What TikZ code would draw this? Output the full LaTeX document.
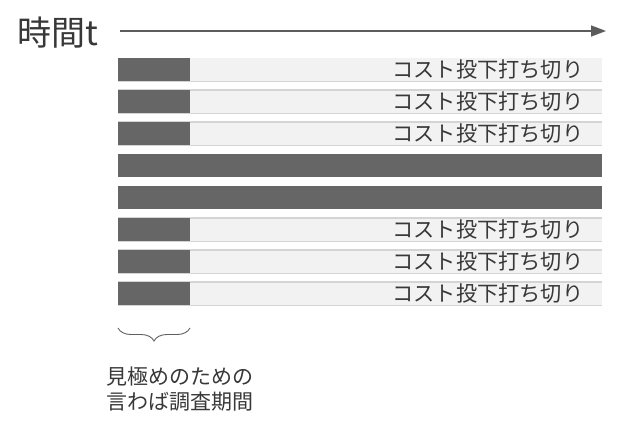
\documentclass[tikz,border=0pt]{standalone}
\usepackage{fontspec}
\newfontfamily\jpfont{Noto Sans CJK JP}
\usetikzlibrary{arrows.meta,decorations.pathreplacing}

\definecolor{barlight}{HTML}{F2F2F2}
\definecolor{barline}{HTML}{D4D4D4}
\definecolor{bardark}{HTML}{666666}
\definecolor{ink}{HTML}{383838}

\tikzset{
  lightbar/.style={anchor=north west,fill=barlight,minimum width=484pt,minimum height=23pt,inner sep=0pt},
  darkbar/.style={anchor=north west,fill=bardark,minimum height=23pt,inner sep=0pt},
  cutlabel/.style={anchor=east,inner sep=0pt,text=ink,font=\jpfont\fontsize{21.2}{24}\selectfont},
  edge/.style={draw=barline,line width=1.2pt}
}

\begin{document}
\begin{tikzpicture}[x=1pt,y=-1pt]
\useasboundingbox (0,0) rectangle (626,434);

  \node[anchor=west,inner sep=0pt,text=ink,font=\jpfont\fontsize{34}{36}\selectfont] (t) at (17,33) {時間t};
  \coordinate (t1) at (120,31);
  \coordinate (t2) at (606,31);
 \draw[-{Triangle[length=15pt,width=11pt]},draw=bardark!90!black,fill=bardark!90!black,line width=1.4pt] (t1) -- (t2);

 % rows with cut
 \node[lightbar] (r1) at (118,58) {};
 \node[lightbar] (r2) at (118,90) {};
 \node[lightbar] (r3) at (118,122) {};
 \node[lightbar] (r6) at (118,218) {};
 \node[lightbar] (r7) at (118,250) {};
 \node[lightbar] (r8) at (118,282) {};
 \draw[edge] (r2.north west) -- (r2.north east);
 \draw[edge] (r3.north west) -- (r3.north east);
 \draw[edge] (r6.north west) -- (r6.north east);
 \draw[edge] (r7.north west) -- (r7.north east);
 \draw[edge] (r8.north west) -- (r8.north east);
 \draw[edge] (r1.south west) -- (r1.south east);
 \draw[edge] (r2.south west) -- (r2.south east);
 \draw[edge] (r3.south west) -- (r3.south east);
 \draw[edge] (r6.south west) -- (r6.south east);
 \draw[edge] (r7.south west) -- (r7.south east);
 \draw[edge] (r8.south west) -- (r8.south east);

  \node[darkbar,minimum width=72pt] (d1) at (118,58) {};
  \node[darkbar,minimum width=72pt] (d2) at (118,90) {};
  \node[darkbar,minimum width=72pt] (d3) at (118,122) {};
  \node[darkbar,minimum width=72pt] (d6) at (118,218) {};
  \node[darkbar,minimum width=72pt] (d7) at (118,250) {};
  \node[darkbar,minimum width=72pt] (d8) at (118,282) {};

 % rows kept
  \node[darkbar,minimum width=484pt] (d4) at (118,154) {};
  \node[darkbar,minimum width=484pt] (d5) at (118,186) {};

 \node[cutlabel] (c1) at ([xshift=-19pt]r1.east) {コスト投下打ち切り};
 \node[cutlabel] (c2) at ([xshift=-19pt]r2.east) {コスト投下打ち切り};
 \node[cutlabel] (c3) at ([xshift=-19pt]r3.east) {コスト投下打ち切り};
 \node[cutlabel] (c6) at ([xshift=-19pt]r6.east) {コスト投下打ち切り};
 \node[cutlabel] (c7) at ([xshift=-19pt]r7.east) {コスト投下打ち切り};
 \node[cutlabel] (c8) at ([xshift=-19pt]r8.east) {コスト投下打ち切り};

 % survey period
  \coordinate (b1) at (118,328);
  \coordinate (b2) at (190,328);
 \draw[decorate,decoration={brace,mirror,amplitude=13pt},draw=ink!80,line width=0.9pt] (b1) -- (b2);
   \node[anchor=north west,inner sep=0pt,text=ink,align=left,font=\jpfont\fontsize{21}{25}\selectfont] (s) at (106,367) {見極めのための\\言わば調査期間};

\end{tikzpicture}
\end{document}
